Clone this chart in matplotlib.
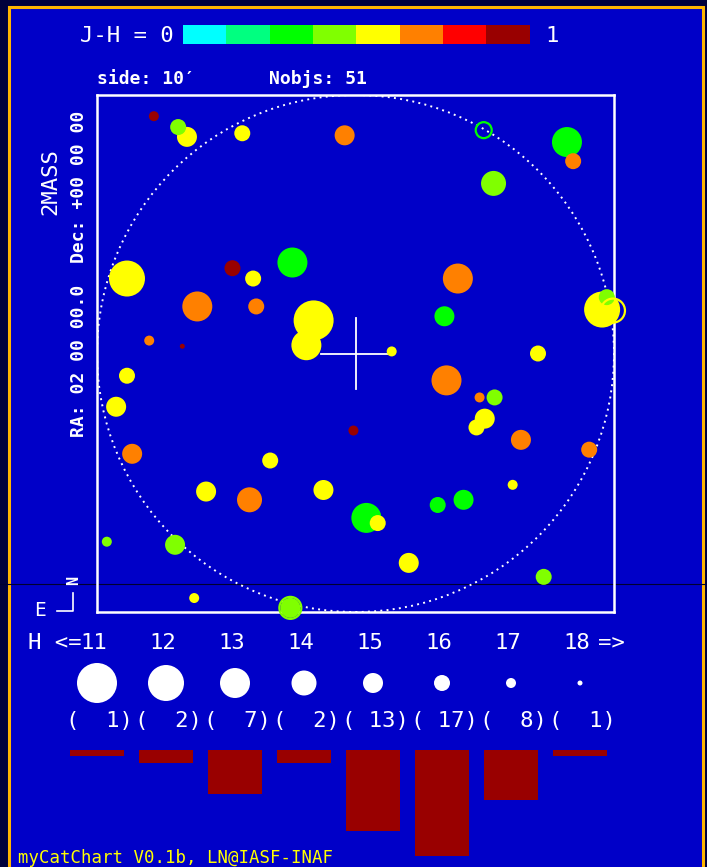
import numpy as np
import matplotlib
matplotlib.use("Agg")
import matplotlib.pyplot as plt
from matplotlib.colors import ListedColormap, BoundaryNorm
from matplotlib.patches import Rectangle, Circle
from matplotlib import transforms

W, H = 707, 867

# J-H colour classes, 0..1 in eighths
jh_colors = ['#00ffff', '#00ff80', '#00ff00', '#80ff00',
             '#ffff00', '#ff8000', '#ff0000', '#990000']
# H magnitude classes and the marker radius (pixels) used for each
h_bins = [11, 12, 13, 14, 15, 16, 17, 18]
h_radius = [20, 18, 15, 12.5, 10, 8, 5, 2.5]

# 2MASS sources: offsets from field centre in arcmin, H mag, J-H
star_dx = [-3.90, -3.43, -3.26, -2.19, -0.21, -4.42, -2.38, -1.98, -1.22, -3.06,
           -1.92, -0.81, -0.95, -3.99, -3.35, 2.48, 4.09, 4.21, 2.67, 1.98,
           1.72, 0.70, 3.53, 4.77, 4.86, -4.42, -4.63, -4.32, -0.04, -1.65,
           -2.89, -2.05, -0.62, -4.81, -3.49, -3.12, -1.26, 1.76, 2.40, 2.69,
           2.50, 2.34, 3.20, 4.52, 3.04, 2.09, 1.59, 0.21, 0.43, 1.03, 3.64]
star_dy = [4.59, 4.38, 4.19, 4.26, 4.22, 1.45, 1.65, 1.45, 1.76, 0.91,
           0.91, 0.64, 0.16, 0.25, 0.14, 4.32, 4.09, 3.72, 3.29, 1.45,
           0.72, 0.04, 0.00, 0.85, 1.09, -0.43, -1.03, -1.94, -1.49, -2.07,
           -2.67, -2.83, -2.64, -3.64, -3.70, -4.73, -4.92, -0.52, -0.85, -0.85,
           -1.26, -1.43, -1.67, -1.86, -2.54, -2.83, -2.93, -3.18, -3.28, -4.05, -4.32]
star_h = [17, 16, 15, 16, 15, 12, 16, 16, 13, 13,
          16, 11, 13, 17, 18, 16, 13, 16, 14, 13,
          15, 17, 16, 12, 16, 16, 15, 15, 17, 16,
          15, 14, 15, 17, 15, 17, 15, 13, 17, 16,
          15, 16, 15, 16, 17, 15, 16, 13, 16, 15, 16]
star_jh = [0.95, 0.44, 0.56, 0.55, 0.68, 0.58, 0.93, 0.57, 0.30, 0.70,
           0.66, 0.55, 0.59, 0.71, 0.97, 0.33, 0.29, 0.72, 0.45, 0.69,
           0.32, 0.58, 0.54, 0.56, 0.46, 0.57, 0.60, 0.67, 0.92, 0.56,
           0.55, 0.70, 0.58, 0.43, 0.44, 0.60, 0.41, 0.68, 0.71, 0.47,
           0.57, 0.55, 0.70, 0.67, 0.59, 0.31, 0.30, 0.28, 0.61, 0.56, 0.45]
hollow = [15]  # sources drawn as open circles

# extra flag rings: offsets (arcmin), radius (px), J-H
ring_dx = [4.98, -1.26]
ring_dy = [0.83, -4.92]
ring_r = [12, 11]
ring_jh = [0.56, 0.41]

field_side = 10  # arcmin
px_per_arcmin = 51.7

blue = '#0000c8'
navy = '#00003c'
gold = '#ffb400'

plt.rcParams['font.family'] = ['DejaVu Sans Mono', 'DejaVu Sans']

cmap = ListedColormap(jh_colors)
norm = BoundaryNorm(np.linspace(0, 1, 9), cmap.N)


def px_axes(x, y, w, h):
    return fig.add_axes([x / W, 1 - (y + h) / H, w / W, h / H])


def msize(r):
    # marker area in points^2 for a radius given in pixels (dpi 100)
    return (2 * np.asarray(r) * 0.72) ** 2


fig = plt.figure(figsize=(W / 100, H / 100), dpi=100, facecolor=navy)

# page background in pixel units
bg = fig.add_axes([0, 0, 1, 1])
bg.set_xlim(0, W)
bg.set_ylim(H, 0)
bg.axis('off')
bg.add_patch(Rectangle((8.5, 6.5), 694, 900, fc=blue, ec=gold, lw=2.2))
bg.axhline(584, color='#000030', lw=0.8, zorder=1)

# colour scale
bg.text(80, 36, 'J-H = 0', color='white', fontsize=16, va='center')
bg.text(545, 36, '1', color='white', fontsize=16, va='center')
cax = px_axes(183, 25, 347, 19)
cax.imshow(np.arange(8)[None, :], cmap=cmap, aspect='auto',
           extent=(0, 1, 0, 1))
cax.axis('off')

bg.text(97, 79, 'side: %d\u2032' % field_side, color='white', fontsize=13,
        fontweight='bold', va='center')
bg.text(269, 79, 'Nobjs: %d' % len(star_h), color='white', fontsize=13,
        fontweight='bold', va='center')
bg.text(50, 182, '2MASS', color='white', fontsize=16, rotation=90,
        ha='center', va='center')
bg.text(79, 274, 'RA: 02 00 00.0  Dec: +00 00 00', color='white',
        fontsize=13, fontweight='bold', rotation=90, ha='center', va='center')

# orientation mark
bg.text(74, 580, 'N', color='white', fontsize=11, fontweight='bold',
        rotation=90, ha='center', va='center')
bg.text(40, 611, 'E', color='white', fontsize=14, ha='center', va='center')
bg.plot([57, 73, 73], [611, 611, 593], color='white', lw=1.2)

# chart
ax = px_axes(97, 95, 517, 517)
lim = 517 / 2 / px_per_arcmin
ax.set_xlim(-lim, lim)
ax.set_ylim(-lim, lim)
ax.set_facecolor('none')
ax.set_xticks([])
ax.set_yticks([])
for sp in ax.spines.values():
    sp.set_color('white')
    sp.set_linewidth(1.8)

ax.add_patch(Circle((0, 0), field_side / 2, fill=False, ec='white', lw=1.4,
                    ls=(0, (1, 2.2))))
ax.plot([-0.66, 0.66], [0, 0], color='white', lw=1.3)
ax.plot([0, 0], [-0.68, 0.68], color='white', lw=1.3)

dx = np.array(star_dx)
dy = np.array(star_dy)
hm = np.array(star_h)
jh = np.array(star_jh)
rad = np.array(h_radius)[np.searchsorted(h_bins, hm)]
filled = np.ones(len(hm), bool)
filled[hollow] = False

# brightest first so faint sources stay on top
order = np.argsort(hm, kind='stable')
order = order[filled[order]]
ax.scatter(dx[order], dy[order], s=msize(rad[order]), c=jh[order],
           cmap=cmap, norm=norm, linewidths=0, clip_on=False, zorder=3)
ax.scatter(dx[~filled], dy[~filled], s=msize(rad[~filled]),
           facecolors='none', edgecolors=cmap(norm(jh[~filled])),
           linewidths=1.6, clip_on=False, zorder=4)
ax.scatter(ring_dx, ring_dy, s=msize(ring_r), facecolors='none',
           edgecolors=cmap(norm(ring_jh)), linewidths=1.6, clip_on=False,
           zorder=4)

# magnitude legend and histogram
counts = np.array([np.sum(hm == b) for b in h_bins])
hx = np.arange(len(h_bins))
hist = px_axes(62.5, 750, 552, 117)
hist.set_xlim(-0.5, len(h_bins) - 0.5)
hist.set_ylim(117 / 6.25, 0)
hist.axis('off')
hist.bar(hx, counts, width=0.78, color='#990000', align='center')

tr = transforms.blended_transform_factory(hist.transData, bg.transData)
hist.scatter(hx, [683] * len(hx), s=msize(h_radius), color='white',
             linewidths=0, transform=tr, clip_on=False)
for i, b in enumerate(h_bins):
    hist.text(i - 0.04, 643, str(b), color='white', fontsize=16,
              ha='center', va='center', transform=tr)
    hist.text(i + 0.04, 721, '(%3d)' % counts[i], color='white', fontsize=16,
              ha='center', va='center', transform=tr)
bg.text(81, 643, 'H <=', color='white', fontsize=16, ha='right', va='center')
bg.text(598, 643, '=>', color='white', fontsize=16, ha='left', va='center')

bg.text(18, 858, 'myCatChart V0.1b, LN@IASF-INAF', color='#ffff00',
        fontsize=12.5, va='center')

fig.savefig('out.png', dpi=100, facecolor=navy)
